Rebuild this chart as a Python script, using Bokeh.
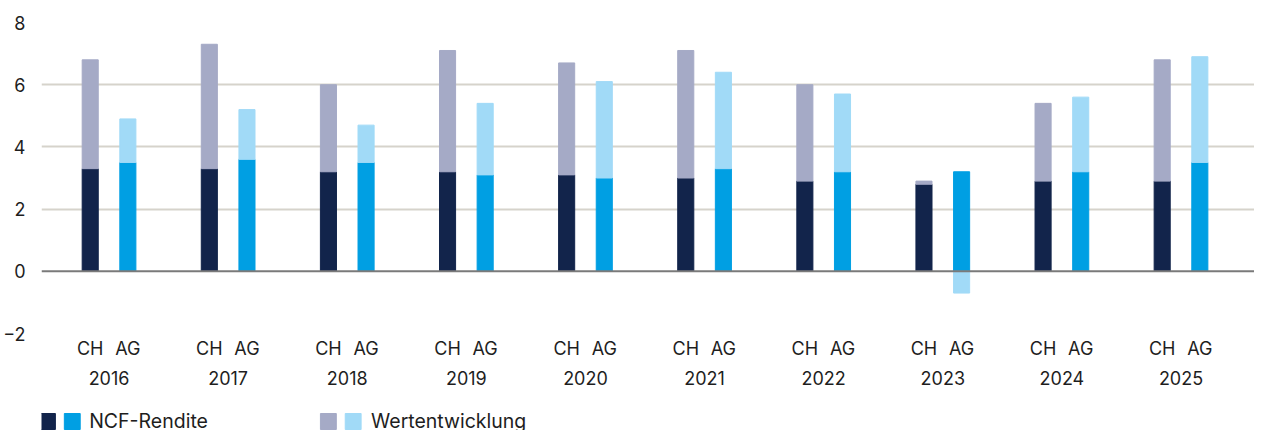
from bokeh.plotting import figure
from bokeh.models import Range1d, FixedTicker, LinearAxis, Span
from bokeh.layouts import column
from bokeh.embed import file_html
from bokeh.resources import INLINE
from bokeh.core.properties import value

years = [2016, 2017, 2018, 2019, 2020, 2021, 2022, 2023, 2024, 2025]
ch_ncf = [3.3, 3.3, 3.2, 3.2, 3.1, 3.0, 2.9, 2.8, 2.9, 2.9]
ch_wert = [3.5, 4.0, 2.8, 3.9, 3.6, 4.1, 3.1, 0.1, 2.5, 3.9]
ag_ncf = [3.5, 3.6, 3.5, 3.1, 3.0, 3.3, 3.2, 3.2, 3.2, 3.5]
ag_wert = [1.4, 1.6, 1.2, 2.3, 3.1, 3.1, 2.5, -0.7, 2.4, 3.4]
sub_labels = ["CH", "AG"]
y_ticks = [-2, 0, 2, 4, 6, 8]
legend_labels = ["NCF-Rendite", "Wertentwicklung"]

C_CH_NCF = "#12244b"
C_CH_WERT = "#a5aac6"
C_AG_NCF = "#009fe3"
C_AG_WERT = "#a1daf7"
FONT = "Inter"
TXT = "#1e1e1e"

OFF = 0.158
BW = 0.135

idx = list(range(len(years)))
x_ch = [i - OFF for i in idx]
x_ag = [i + OFF for i in idx]


def stack(ncf, wert):
    bot = [n if w >= 0 else 0 for n, w in zip(ncf, wert)]
    top = [n + w if w >= 0 else w for n, w in zip(ncf, wert)]
    return bot, top


ch_b, ch_t = stack(ch_ncf, ch_wert)
ag_b, ag_t = stack(ag_ncf, ag_wert)

p = figure(width=1254, height=400, output_backend="svg", toolbar_location=None,
           x_range=Range1d(-0.567, 9.617), y_range=Range1d(-2, 8),
           min_border_left=32, min_border_right=0, min_border_top=22, min_border_bottom=67,
           x_axis_location=None)
p.outline_line_color = None
p.background_fill_color = "white"
p.border_fill_color = "white"

p.vbar(x=x_ch, bottom=0, top=ch_ncf, width=BW, color=C_CH_NCF)
p.vbar(x=x_ch, bottom=ch_b, top=ch_t, width=BW, color=C_CH_WERT)
p.vbar(x=x_ag, bottom=0, top=ag_ncf, width=BW, color=C_AG_NCF)
p.vbar(x=x_ag, bottom=ag_b, top=ag_t, width=BW, color=C_AG_WERT)

p.add_layout(Span(location=0, dimension="width", line_color="#7a7a7a", line_width=2, level="overlay"))

p.xgrid.visible = False
p.ygrid.ticker = FixedTicker(ticks=[t for t in y_ticks if t != 0])
p.ygrid.grid_line_color = "#d6d3cb"
p.ygrid.grid_line_width = 2

ya = p.yaxis[0]
ya.ticker = FixedTicker(ticks=y_ticks)
ya.major_label_overrides = {t: (str(t) if t >= 0 else "\u2212" + str(-t)) for t in y_ticks}
ya.axis_line_color = None
ya.major_tick_line_color = None
ya.minor_tick_line_color = None
ya.major_label_text_font = FONT
ya.major_label_text_font_size = "18px"
ya.major_label_text_color = TXT
ya.major_label_standoff = 10

sub_ticks = []
sub_over = {}
for i in idx:
    for xx, lab in ((x_ch[i], sub_labels[0]), (x_ag[i], sub_labels[1])):
        sub_ticks.append(xx)
        sub_over[xx] = lab

ax1 = LinearAxis(ticker=FixedTicker(ticks=sub_ticks), major_label_overrides=sub_over)
ax2 = LinearAxis(ticker=FixedTicker(ticks=idx), major_label_overrides={i: str(y) for i, y in zip(idx, years)})
for ax, so in ((ax1, -2), (ax2, 3)):
    ax.axis_line_color = None
    ax.major_tick_line_color = None
    ax.minor_tick_line_color = None
    ax.major_label_text_font = FONT
    ax.major_label_text_font_size = "18px"
    ax.major_label_text_color = TXT
    ax.major_label_standoff = so
    p.add_layout(ax, "below")

# legend strip (its frame is aligned with the main frame, which starts 32px in)
lg = figure(width=1254, height=30, output_backend="svg", toolbar_location=None,
            x_range=Range1d(0, 1222), y_range=Range1d(30, 0),
            min_border=0, min_border_left=32, x_axis_location=None, y_axis_location=None)
lg.outline_line_color = None
lg.xgrid.visible = False
lg.ygrid.visible = False
lg.rect(x=[6, 31, 289, 314], y=[21, 21, 21, 21], width=16, height=16,
        color=[C_CH_NCF, C_AG_NCF, C_CH_WERT, C_AG_WERT])
lg.text(x=[48, 332], y=[20, 20], text=legend_labels, text_font=value(FONT),
        text_font_size="19.5px", text_color=TXT, text_baseline="middle")

layout = column(p, lg, spacing=0)
open("out.html", "w").write(file_html(layout, INLINE))
